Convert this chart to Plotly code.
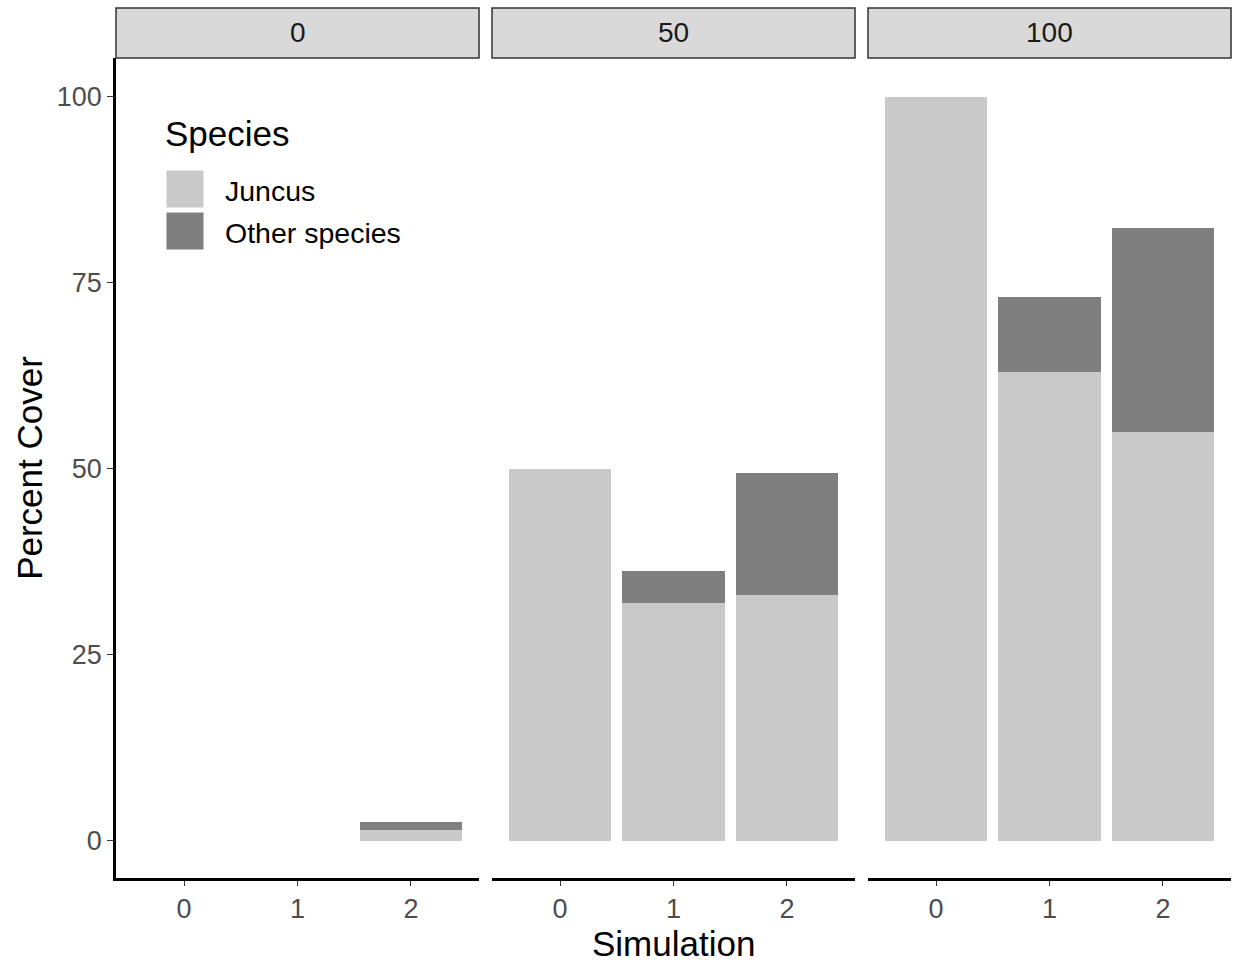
import plotly.graph_objects as go

# ---- data ----
treatments = ["0", "50", "100"]
simulations = [0, 1, 2]
juncus_cover = [
    [0, 0, 1.5],      # treatment 0
    [50, 32, 33],     # treatment 50
    [100, 63, 55],    # treatment 100
]
other_cover = [
    [0, 0, 1.0],
    [0, 4.2, 16.4],
    [0, 10.1, 27.3],
]
species = ["Juncus", "Other species"]
species_colors = ["#C9C9C9", "#7F7F7F"]
y_ticks = [0, 25, 50, 75, 100]

FONT = "Liberation Sans, Arial, sans-serif"

W, H = 1235, 963
L, R, T, B = 116, 4, 58, 85
pw = W - L - R
gap = 13
panel_w = (pw - 2 * gap) / 3
ph = H - T - B

fig = go.Figure()

domains = []
for i in range(3):
    x0 = i * (panel_w + gap) / pw
    x1 = (i * (panel_w + gap) + panel_w) / pw
    domains.append([x0, min(x1, 1.0)])

for i, t in enumerate(treatments):
    xa = "x" if i == 0 else f"x{i+1}"
    ya = "y" if i == 0 else f"y{i+1}"
    for s, vals, col in zip(species, [juncus_cover[i], other_cover[i]], species_colors):
        fig.add_trace(go.Bar(
            x=simulations, y=vals, width=0.9, name=s,
            marker=dict(color=col, line=dict(width=0)),
            xaxis=xa, yaxis=ya, showlegend=False,
        ))

layout = dict(
    width=W, height=H, barmode="stack",
    margin=dict(l=L, r=R, t=T, b=B),
    plot_bgcolor="white", paper_bgcolor="white",
    font=dict(family=FONT, color="#4D4D4D"),
    bargap=0,
)

for i in range(3):
    xk = "xaxis" if i == 0 else f"xaxis{i+1}"
    yk = "yaxis" if i == 0 else f"yaxis{i+1}"
    layout[xk] = dict(
        domain=domains[i], anchor="y" if i == 0 else f"y{i+1}",
        range=[-0.6, 2.6], tickvals=simulations,
        ticktext=[str(s) for s in simulations],
        showgrid=False, zeroline=False,
        showline=True, linecolor="black", linewidth=2.5,
        ticks="outside", ticklen=5, tickwidth=1, tickcolor="#333333",
        tickfont=dict(size=27, color="#4D4D4D", family=FONT),
        fixedrange=True,
    )
    ydict = dict(
        domain=[0, 1], range=[-5, 105.2], showgrid=False, zeroline=False,
        anchor="x" if i == 0 else f"x{i+1}",
    )
    if i == 0:
        ydict.update(
            tickvals=y_ticks, ticks="outside", ticklen=6, tickwidth=1,
            tickcolor="#333333", showline=True, linecolor="black", linewidth=2.5,
            tickfont=dict(size=27, color="#4D4D4D", family=FONT),
            title=dict(text="Percent Cover", font=dict(size=35, color="black", family=FONT), standoff=4),
        )
    else:
        ydict.update(matches="y", showticklabels=False, showline=False, ticks="")
    layout[yk] = ydict

fig.update_layout(**layout)

# facet strips
strip_h = 50 / ph
for i, t in enumerate(treatments):
    d = domains[i]
    fig.add_shape(type="rect", xref="paper", yref="paper",
                  x0=d[0], x1=d[1], y0=1.0, y1=1.0 + strip_h,
                  fillcolor="#D9D9D9", line=dict(color="#333333", width=1.5))
    fig.add_annotation(xref="paper", yref="paper", x=(d[0] + d[1]) / 2,
                       y=1.0 + strip_h / 2, text=t, showarrow=False,
                       xanchor="center", yanchor="middle",
                       font=dict(size=28, color="#1A1A1A", family=FONT))

# x-axis title
fig.add_annotation(xref="paper", yref="paper", x=0.5, y=-(943 - 878) / ph,
                   text="Simulation", showarrow=False, xanchor="center", yanchor="middle",
                   font=dict(size=35, color="black", family=FONT))

# legend (manual, ggplot-style large keys)
def px_x(px):
    return (px - L) / pw

def px_y(py):
    return 1 - (py - T) / ph

fig.add_annotation(xref="paper", yref="paper", x=px_x(163), y=px_y(134),
                   text="Species", showarrow=False, xanchor="left", yanchor="middle",
                   font=dict(size=35, color="black", family=FONT))
key_tops = [170, 212]
for s, col, kt in zip(species, species_colors, key_tops):
    fig.add_shape(type="rect", xref="paper", yref="paper",
                  x0=px_x(166), x1=px_x(204), y0=px_y(kt + 38), y1=px_y(kt),
                  fillcolor=col, line=dict(width=1, color="white"))
    fig.add_annotation(xref="paper", yref="paper", x=px_x(223), y=px_y(kt + 21),
                       text=s, showarrow=False, xanchor="left", yanchor="middle",
                       font=dict(size=28.5, color="black", family=FONT))

fig.write_html("out.html")
